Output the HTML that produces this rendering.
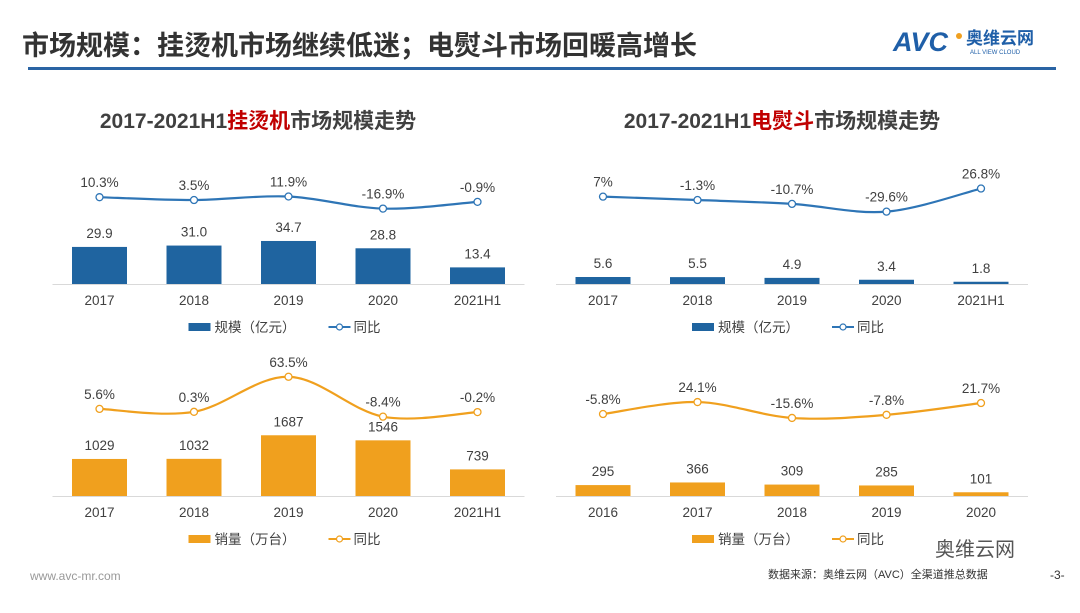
<!DOCTYPE html>
<html><head><meta charset="utf-8">
<style>
body{margin:0;width:1080px;height:608px;background:#fff;overflow:hidden;font-family:"Liberation Sans","Noto Sans CJK SC",sans-serif;}
svg text{font-family:"Liberation Sans","Noto Sans CJK SC",sans-serif;}
</style></head>
<body>
<svg id="s" width="1080" height="608" viewBox="0 0 1080 608">
<text x="22" y="55" font-size="27" font-weight="bold" fill="#333">市场规模：挂烫机市场继续低迷；电熨斗市场回暖高增长</text>
<rect x="28" y="67" width="1028" height="3" fill="#2a64a4"/>
<g>
<text x="893" y="51" font-size="27" font-weight="bold" font-style="italic" fill="#1f5fa8">AVC</text>
<circle cx="959" cy="36" r="3" fill="#f0a020"/>
<text x="966" y="44" font-size="17" font-weight="bold" fill="#1f5fa8">奥维云网</text>
<text x="970" y="54" font-size="6" fill="#1f5fa8">ALL VIEW CLOUD</text>
</g>
<text x="258" y="128" font-size="21" font-weight="bold" fill="#404040" text-anchor="middle">2017-2021H1<tspan fill="#c00000">挂烫机</tspan>市场规模走势</text>
<text x="782" y="128" font-size="21" font-weight="bold" fill="#404040" text-anchor="middle">2017-2021H1<tspan fill="#c00000">电熨斗</tspan>市场规模走势</text>
<text x="30" y="580" font-size="12" fill="#999">www.avc-mr.com</text>
<text x="768" y="578" font-size="11" fill="#333">数据来源：奥维云网（AVC）全渠道推总数据</text>
<text x="1050" y="579" font-size="12" fill="#333">-3-</text>
<text x="935" y="556" font-size="20" fill="#555">奥维云网</text>
<g id="charts"></g>
</svg>
<script>
const catsA=["2017","2018","2019","2020","2021H1"];
const barsA=[29.9,31.0,34.7,28.8,13.4];
const barLblA=["29.9","31.0","34.7","28.8","13.4"];
const yoyA=[10.3,3.5,11.9,-16.9,-0.9];
const yoyLblA=["10.3%","3.5%","11.9%","-16.9%","-0.9%"];

const catsB=["2017","2018","2019","2020","2021H1"];
const barsB=[5.6,5.5,4.9,3.4,1.8];
const barLblB=["5.6","5.5","4.9","3.4","1.8"];
const yoyB=[7,-1.3,-10.7,-29.6,26.8];
const yoyLblB=["7%","-1.3%","-10.7%","-29.6%","26.8%"];

const catsC=["2017","2018","2019","2020","2021H1"];
const barsC=[1029,1032,1687,1546,739];
const barLblC=["1029","1032","1687","1546","739"];
const yoyC=[5.6,0.3,63.5,-8.4,-0.2];
const yoyLblC=["5.6%","0.3%","63.5%","-8.4%","-0.2%"];

const catsD=["2016","2017","2018","2019","2020"];
const barsD=[295,366,309,285,101];
const barLblD=["295","366","309","285","101"];
const yoyD=[-5.8,24.1,-15.6,-7.8,21.7];
const yoyLblD=["-5.8%","24.1%","-15.6%","-7.8%","21.7%"];

const NS="http://www.w3.org/2000/svg";
const root=document.getElementById('charts');
function mk(t,a,p){const e=document.createElementNS(NS,t);for(const k in a)e.setAttribute(k,a[k]);(p||root).appendChild(e);return e;}

function chart(o){
  const g=mk('g',{});
  
  
  const x=i=>o.x0+i*94.5;
  const yb=v=>o.base-v*o.bs;
  const yl=v=>o.l0-v*o.ls;
  const ax=mk('line',{x1:o.x0-47,x2:o.x0+4*94.5+47,y1:o.base+0.5,y2:o.base+0.5,stroke:'#d9d9d9','stroke-width':1},g);
  
  
  o.cats.forEach((c,i)=>{
    const r=mk('rect',{x:x(i)-27.5,y:yb(o.bars[i]),width:55,height:o.bars[i]*o.bs,fill:o.bc},g);
    
    
    const t=mk('text',{x:x(i),y:yb(o.bars[i])-9,'font-size':13.5,fill:'#404040','text-anchor':'middle'},g);t.textContent=o.bl[i];
    
    
    const ct=mk('text',{x:x(i),y:o.base+21,'font-size':13.5,fill:'#404040','text-anchor':'middle'},g);ct.textContent=c;
    
    
  });
  const P=o.yoy.map((v,i)=>[x(i),yl(v)]);
  let d='M'+P[0][0]+','+P[0][1];
  for(let i=0;i<P.length-1;i++){
    const p0=P[Math.max(0,i-1)],p1=P[i],p2=P[i+1],p3=P[Math.min(P.length-1,i+2)];
    const c1=[p1[0]+(p2[0]-p0[0])/6,p1[1]+(p2[1]-p0[1])/6];
    const c2=[p2[0]-(p3[0]-p1[0])/6,p2[1]-(p3[1]-p1[1])/6];
    d+=' C'+c1+' '+c2+' '+p2;
  }
  const ln=mk('path',{d:d,fill:'none',stroke:o.lc,'stroke-width':2.2},g);
  
  
  P.forEach((p,i)=>{
    const c=mk('circle',{cx:p[0],cy:p[1],r:3.5,fill:'#fff',stroke:o.lc,'stroke-width':1.3},g);
    
    
    const t=mk('text',{x:p[0],y:p[1]-10,'font-size':13.5,fill:'#404040','text-anchor':'middle'},g);t.textContent=o.yl[i];
    
    
  });
  const lg=mk('g',{},g);
  
  
  const ly=o.base+43;
  mk('rect',{x:o.x0+89,y:ly-4,width:22,height:8,fill:o.bc},lg);
  const t1=mk('text',{x:o.x0+115,y:ly+5,'font-size':13.5,fill:'#404040'},lg);t1.textContent=o.bname;
  mk('line',{x1:o.x0+229,x2:o.x0+251,y1:ly,y2:ly,stroke:o.lc,'stroke-width':2},lg);
  mk('circle',{cx:o.x0+240,cy:ly,r:3,fill:'#fff',stroke:o.lc,'stroke-width':1.2},lg);
  const t2=mk('text',{x:o.x0+254,y:ly+5,'font-size':13.5,fill:'#404040'},lg);t2.textContent='同比';
}
chart({name:'steamer-value-chart',x0:99.5,base:284,bs:1.24,l0:201.5,ls:0.42,cats:catsA,bars:barsA,bl:barLblA,yoy:yoyA,yl:yoyLblA,bc:'#1f64a0',lc:'#2e75b6',bname:'规模（亿元）'});
chart({name:'iron-value-chart',x0:603,base:284,bs:1.25,l0:199.5,ls:0.41,cats:catsB,bars:barsB,bl:barLblB,yoy:yoyB,yl:yoyLblB,bc:'#1f64a0',lc:'#2e75b6',bname:'规模（亿元）'});
chart({name:'steamer-volume-chart',x0:99.5,base:496,bs:0.036,l0:412,ls:0.555,cats:catsC,bars:barsC,bl:barLblC,yoy:yoyC,yl:yoyLblC,bc:'#f0a01e',lc:'#f0a01e',bname:'销量（万台）'});
chart({name:'iron-volume-chart',x0:603,base:496,bs:0.037,l0:411.7,ls:0.4,cats:catsD,bars:barsD,bl:barLblD,yoy:yoyD,yl:yoyLblD,bc:'#f0a01e',lc:'#f0a01e',bname:'销量（万台）'});
</script>
</body></html>
